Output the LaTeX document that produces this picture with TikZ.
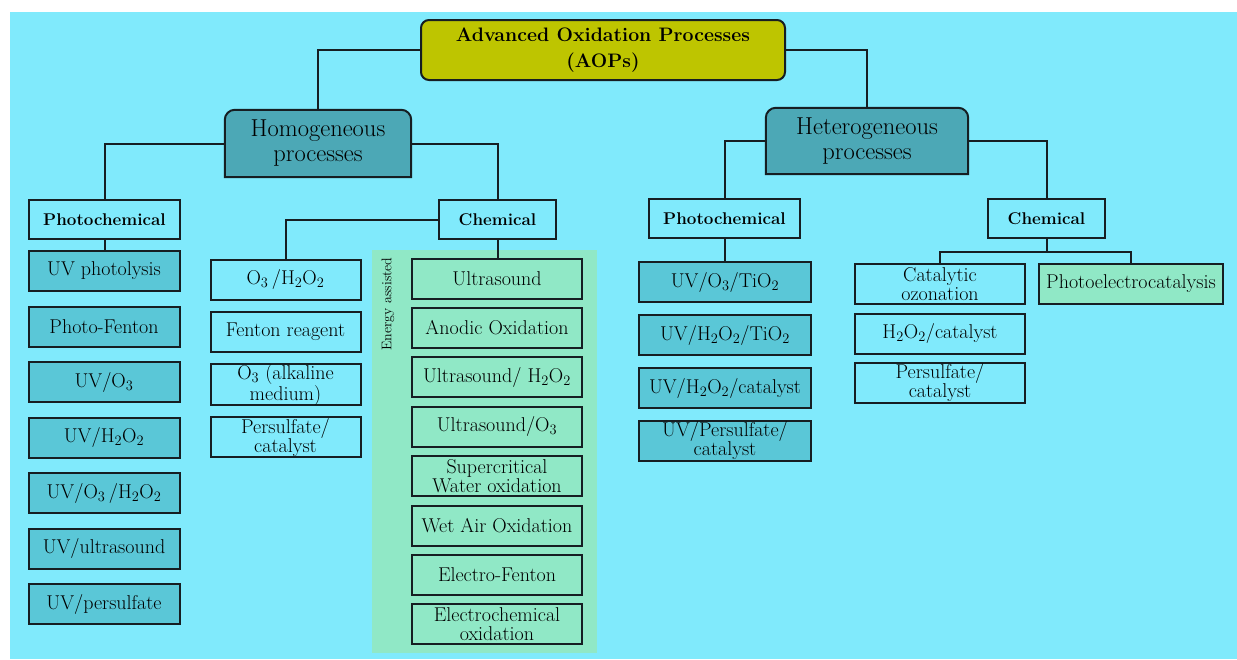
\documentclass[tikz,border=0pt]{standalone}
\usepackage{xcolor}
\usepackage{tikz}
\usetikzlibrary{positioning, calc, backgrounds}
\definecolor{skybg}{RGB}{128,234,252}
\definecolor{aopfill}{RGB}{190,197,0}
\definecolor{groupfill}{RGB}{76,168,182}
\definecolor{leaffill}{RGB}{90,199,215}
\definecolor{energyfill}{RGB}{144,232,198}
\definecolor{edge}{RGB}{22,30,34}
\tikzset{
    box/.style = {draw=edge, line width=2pt, inner xsep=2pt, inner ysep=0pt, align=center,
        minimum height=40pt, font=\fontsize{20}{19}\selectfont},
    head/.style = {box, fill=skybg, minimum height=39pt,
        font=\bfseries\fontsize{17}{20}\selectfont},
    uv_leaf/.style = {box, fill=leaffill, minimum width=151pt},
    chem_leaf/.style = {box, fill=skybg, minimum width=150pt},
    energy_leaf/.style = {box, fill=energyfill, minimum width=170pt},
    het_leaf/.style = {box, fill=leaffill, minimum width=172pt},
    cat_leaf/.style = {box, fill=skybg, minimum width=170pt},
    group/.style = {inner sep=0pt, align=center, font=\fontsize{24.5}{25}\selectfont},
    link/.style = {draw=edge, line width=2pt},
}

\begin{document}
\begin{tikzpicture}[x=1pt, y=-1pt]
            \useasboundingbox (0,0) rectangle (1237,659);
            \begin{scope}[on background layer]
                \fill[skybg] (10,12) rectangle (1237,659);
            \end{scope}
            \fill[energyfill] (372,250) rectangle (597,653);

            \node (aop) [box, fill=aopfill, rounded corners=8pt, minimum width=364pt, minimum height=60pt,
                font=\bfseries\fontsize{19.5}{26}\selectfont] at (603,50) {Advanced Oxidation Processes\\(AOPs)};
            \node (homo) [group, minimum width=186pt, minimum height=67pt] at (318,143.5) {Homogeneous\\processes};
            \node (hetero) [group, minimum width=202pt, minimum height=66pt] at (867,141) {Heterogeneous\\processes};
            \begin{scope}[on background layer]
                \foreach \g in {homo, hetero}
                    \filldraw[link, fill=groupfill, rounded corners=10pt] (\g.west) -- (\g.north west) -- (\g.north east)
                        -- (\g.east) [sharp corners] -- (\g.south east) -- (\g.south west) -- cycle;
            \end{scope}

            \node (photo_homo) [head, minimum width=151pt] at (104.5,219.5) {Photochemical};
            \node (chem_homo) [head, minimum width=117pt] at (497.5,219.5) {Chemical};
            \node (photo_het) [head, minimum width=151pt] at (724.5,218.5) {Photochemical};
            \node (chem_het) [head, minimum width=117pt] at (1046.5,218.5) {Chemical};

            \node (uv1) [uv_leaf] at (104,271) {UV photolysis};
            \node (uv2) [uv_leaf, below=13.5pt of uv1] {Photo-Fenton};
            \node (uv3) [uv_leaf, below=13.5pt of uv2] {UV/O$_3$};
            \node (uv4) [uv_leaf, below=13.5pt of uv3] {UV/H$_2$O$_2$};
            \node (uv5) [uv_leaf, below=13.5pt of uv4] {UV/O$_3$\,/H$_2$O$_2$};
            \node (uv6) [uv_leaf, below=13.5pt of uv5] {UV/ultrasound};
            \node (uv7) [uv_leaf, below=13.5pt of uv6] {UV/persulfate};

            \node (ch1) [chem_leaf] at (285.5,279.5) {O$_3$\,/H$_2$O$_2$};
            \node (ch2) [chem_leaf, below=10.3pt of ch1] {Fenton reagent};
            \node (ch3) [chem_leaf, below=10.3pt of ch2] {O$_3$ (alkaline\\medium)};
            \node (ch4) [chem_leaf, below=10.3pt of ch3] {Persulfate/\\catalyst};

            \node (energy) [rotate=90, font=\fontsize{14}{15}\selectfont] at (388,304) {Energy assisted};
            \node (en1) [energy_leaf] at (497,278.5) {Ultrasound};
            \node (en2) [energy_leaf, below=7.4pt of en1] {Anodic Oxidation};
            \node (en3) [energy_leaf, below=7.4pt of en2] {Ultrasound/ H$_2$O$_2$};
            \node (en4) [energy_leaf, below=7.4pt of en3] {Ultrasound/O$_3$};
            \node (en5) [energy_leaf, below=7.4pt of en4] {Supercritical\\Water oxidation};
            \node (en6) [energy_leaf, below=7.4pt of en5] {Wet Air Oxidation};
            \node (en7) [energy_leaf, below=7.4pt of en6] {Electro-Fenton};
            \node (en8) [energy_leaf, below=7.4pt of en7] {Electrochemical\\oxidation};

            \node (het1) [het_leaf] at (725,282) {UV/O$_3$/TiO$_2$};
            \node (het2) [het_leaf, below=11pt of het1] {UV/H$_2$O$_2$/TiO$_2$};
            \node (het3) [het_leaf, below=11pt of het2] {UV/H$_2$O$_2$/catalyst};
            \node (het4) [het_leaf, below=11pt of het3] {UV/Persulfate/\\catalyst};

            \node (cat1) [cat_leaf] at (940,284) {Catalytic\\ozonation};
            \node (cat2) [cat_leaf, below=7.5pt of cat1] {H$_2$O$_2$/catalyst};
            \node (cat3) [cat_leaf, below=7.5pt of cat2] {Persulfate/\\catalyst};
            \node (pec) [box, fill=energyfill, minimum width=184pt] at (1131,284) {Photoelectrocatalysis};

            \draw[link] (aop.west) -| (homo.north);
            \draw[link] (aop.east) -| (hetero.north);
            \draw[link] (homo.west) -| (photo_homo.north);
            \draw[link] (homo.east) -| (chem_homo.north);
            \draw[link] (hetero.west) -| (photo_het.north);
            \draw[link] (hetero.east) -| (chem_het.north);
            \draw[link] (photo_homo.south) -- (photo_homo.south |- uv1.north);
            \draw[link] (chem_homo.west) -| (ch1.north);
            \draw[link] (chem_homo.south) -- (chem_homo.south |- en1.north);
            \draw[link] (photo_het.south) -- (photo_het.south |- het1.north);
            \path (chem_het.south) ++(0,13) coordinate (split);
            \draw[link] (chem_het.south) -- (split);
            \draw[link] (cat1.north) |- (split) -| (pec.north);
\end{tikzpicture}
\end{document}
